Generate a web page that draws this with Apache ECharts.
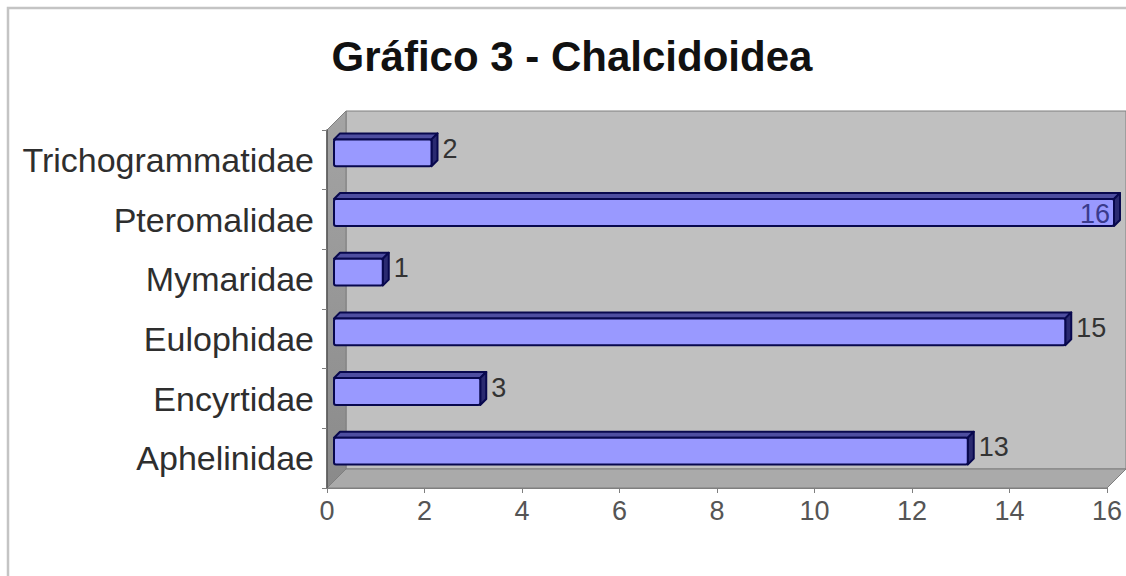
<!DOCTYPE html>
<html>
<head>
<meta charset="utf-8">
<title>Gráfico 3 - Chalcidoidea</title>
<script src="https://cdn.jsdelivr.net/npm/echarts@6/dist/echarts.min.js"></script>
<style>
  html, body { margin: 0; padding: 0; background: #ffffff; }
  #chart { width: 1126px; height: 576px; }
</style>
</head>
<body>
<div id="chart"></div>
<script>
// Families of Chalcidoidea, listed bottom to top as they appear on the axis
const categories = ['Aphelinidae', 'Encyrtidae', 'Eulophidae', 'Mymaridae', 'Pteromalidae', 'Trichogrammatidae'];
// Number of records per family
const counts = [13, 3, 15, 1, 16, 2];
// Value axis ticks
const xTicks = [0, 2, 4, 6, 8, 10, 12, 14, 16];

const FONT = "'Liberation Sans', Arial, Helvetica, sans-serif";
const WALL_DEPTH = 19;   // 3D depth of walls/floor (px)
const BAR_SHIFT = 7;     // bar front face sits this far behind the front plane
const BAR_DEPTH = 6;     // thickness of the bar extrusion
const BAR_RATIO = 0.45;  // bar height as share of a category band

const chart = echarts.init(document.getElementById('chart'), null, { renderer: 'svg' });

// Back wall, left wall and floor of the 3D plot box
function renderWalls(params, api) {
  const cs = params.coordSys;
  const x = cs.x, y = cs.y, w = cs.width, h = cs.height, d = WALL_DEPTH;
  const edge = { stroke: '#7f7f7f', lineWidth: 1 };
  return {
    type: 'group',
    children: [
      {
        type: 'rect',
        shape: { x: x + d, y: y - d, width: w, height: h },
        style: Object.assign({ fill: '#c0c0c0' }, edge)
      },
      {
        type: 'polygon',
        shape: { points: [[x, y], [x + d, y - d], [x + d, y + h - d], [x, y + h]] },
        style: Object.assign({
          fill: new echarts.graphic.LinearGradient(0, 0, 0, 1, [
            { offset: 0, color: '#a4a4a4' },
            { offset: 1, color: '#8a8a8a' }
          ])
        }, edge)
      },
      {
        type: 'polygon',
        shape: { points: [[x, y + h], [x + d, y + h - d], [x + w + d, y + h - d], [x + w, y + h]] },
        style: Object.assign({ fill: '#aaaaaa' }, edge)
      }
    ]
  };
}

// Extruded horizontal bar with its value label
function renderBar(params, api) {
  const idx = api.value(0);
  const v = api.value(1);
  const start = api.coord([0, idx]);
  const end = api.coord([v, idx]);
  const band = api.size([0, 1])[1];
  const h = band * BAR_RATIO;
  const d = BAR_DEPTH;
  const x0 = start[0] + BAR_SHIFT;
  const x1 = end[0] + BAR_SHIFT;
  const yc = start[1] - BAR_SHIFT;
  const yt = yc - h / 2, yb = yc + h / 2;
  const stroke = { stroke: '#08084e', lineWidth: 2, lineJoin: 'round' };
  const cs = params.coordSys;
  const roomRight = cs.x + cs.width + WALL_DEPTH;
  const inside = x1 + d + 40 > roomRight;
  const label = inside
    ? { text: String(v), x: x1 - 4, y: yc + 1, align: 'right', verticalAlign: 'middle',
        fill: '#3a3a8c', font: '27px ' + FONT }
    : { text: String(v), x: x1 + d + 5, y: yc - 4, align: 'left', verticalAlign: 'middle',
        fill: '#333333', font: '27px ' + FONT };
  return {
    type: 'group',
    children: [
      {
        type: 'polygon',
        shape: { points: [[x0, yt], [x0 + d, yt - d], [x1 + d, yt - d], [x1, yt]] },
        style: Object.assign({ fill: '#4e4ea0' }, stroke)
      },
      {
        type: 'polygon',
        shape: { points: [[x1, yt], [x1 + d, yt - d], [x1 + d, yb - d], [x1, yb]] },
        style: Object.assign({ fill: '#2a2a70' }, stroke)
      },
      {
        type: 'rect',
        shape: { x: x0, y: yt, width: x1 - x0, height: h, r: 2 },
        style: Object.assign({ fill: '#9999ff' }, stroke)
      },
      { type: 'text', style: label }
    ]
  };
}

const option = {
  animation: false,
  backgroundColor: '#ffffff',
  textStyle: { fontFamily: FONT },
  graphic: [
    {
      type: 'rect',
      shape: { x: 8, y: 8, width: 1140, height: 600 },
      style: { fill: 'none', stroke: '#c4c4c4', lineWidth: 2.5 },
      silent: true
    },
    {
      type: 'text',
      style: {
        text: 'Gráfico 3 - Chalcidoidea',
        x: 572, y: 56,
        align: 'center', verticalAlign: 'middle',
        font: 'bold 42px ' + FONT,
        fill: '#111111'
      }
    }
  ],
  grid: { left: 327, right: 19, top: 130, bottom: 88 },
  xAxis: {
    type: 'value',
    min: xTicks[0],
    max: xTicks[xTicks.length - 1],
    interval: xTicks[1] - xTicks[0],
    axisLine: { show: true, lineStyle: { color: '#7f7f7f', width: 1 } },
    axisTick: { show: true, length: 5, lineStyle: { color: '#7f7f7f' } },
    splitLine: { show: false },
    axisLabel: { fontSize: 27, color: '#555555', margin: 9, fontFamily: FONT }
  },
  yAxis: {
    type: 'category',
    data: categories,
    axisLine: { show: true, lineStyle: { color: '#555555', width: 1.5 } },
    axisTick: { show: true, length: 5, lineStyle: { color: '#7f7f7f' } },
    axisLabel: { fontSize: 34, color: '#2e2e2e', margin: 13, fontFamily: FONT }
  },
  series: [
    {
      type: 'custom',
      name: 'walls',
      renderItem: renderWalls,
      data: [[0, 0]],
      encode: { x: 1, y: 0 },
      z: 0,
      silent: true
    },
    {
      type: 'custom',
      name: 'Chalcidoidea',
      renderItem: renderBar,
      data: counts.map((c, i) => [i, c]),
      encode: { x: 1, y: 0 },
      z: 2
    }
  ]
};

chart.setOption(option);
</script>
</body>
</html>
